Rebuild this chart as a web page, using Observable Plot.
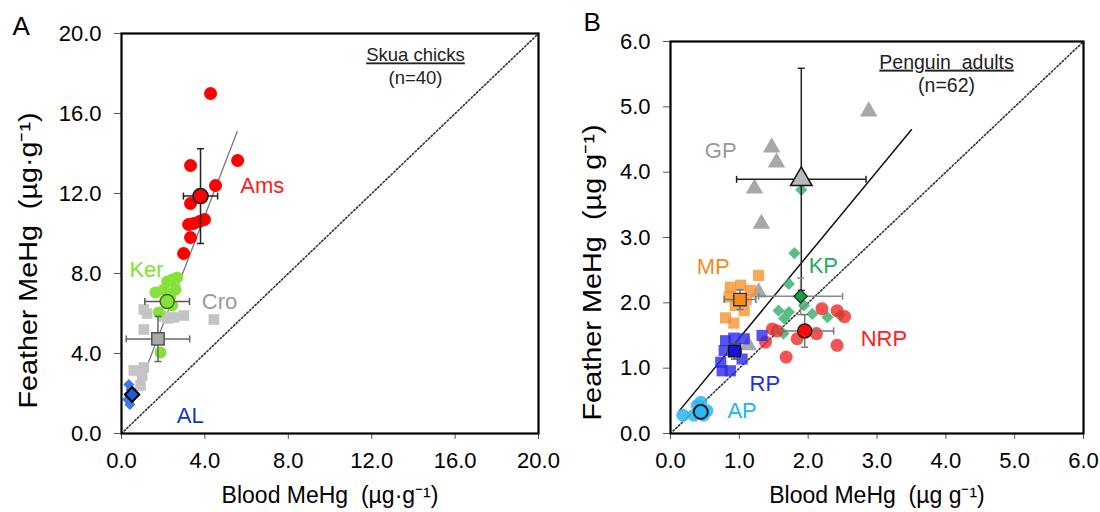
<!DOCTYPE html>
<html><head><meta charset="utf-8">
<script src="https://cdn.jsdelivr.net/npm/d3@7"></script>
<script src="https://cdn.jsdelivr.net/npm/@observablehq/plot@0.6"></script>
<style>
body{margin:0;background:#fff;}
#wrap{display:flex;width:1100px;height:512px;}
svg text{font-family:"Liberation Sans",Arial,sans-serif;}
</style></head><body><div id="wrap"></div>
<script>
// ---------- Panel A: skua chicks ----------
const amsBlood   = [4.27, 5.57, 3.31, 4.51, 3.31, 3.98, 3.46, 3.22, 3.74, 3.31, 2.98];
const amsFeather = [17.0, 13.65, 13.4, 12.4, 11.5, 10.7, 10.5, 10.45, 10.6, 9.8, 9.0];
const kerBlood   = [2.67, 2.43, 2.19, 2.03, 2.59, 1.63, 2.43, 1.79, 1.87, 2.35];
const kerFeather = [7.8, 7.7, 7.6, 7.2, 7.2, 7.05, 6.4, 6.05, 4.05, 6.9];
const croBlood   = [1.07, 1.23, 2.03, 2.51, 2.99, 4.43, 1.07, 0.59, 1.07, 0.99, 0.91, 2.2];
const croFeather = [6.2, 6.0, 5.85, 5.8, 5.9, 5.7, 5.2, 3.15, 3.3, 2.9, 2.4, 5.75];
const alBlood    = [0.35, 0.45, 0.3, 0.4, 0.5];
const alFeather  = [2.45, 2.2, 1.7, 1.45, 1.9];

const meanGroupsA = ["Ams", "Ker", "Cro", "AL"];
const meanBloodA  = [3.79, 2.19, 1.75, 0.51];
const meanFeathA  = [11.87, 6.6, 4.73, 1.95];
const sdBloodA    = [0.82, 1.07, 1.52, 0];
const sdFeathA    = [2.37, 0, 1.13, 0];

const fitA = [[0.45, 5.55], [1.27, 15.1]]; // regression line ends (blood, feather)
const ticksA = [0, 4, 8, 12, 16, 20];
const labelsA = ["Ams", "Ker", "Cro", "AL"];
const labelXA = [6.75, 1.2, 4.7, 3.3];
const labelYA = [12.4, 8.2, 6.6, 0.9];

// ---------- Panel B: penguin adults ----------
const gpBlood    = [2.88, 1.47, 1.54, 1.22, 1.32, 1.28, 1.13];
const gpFeather  = [4.93, 4.38, 4.15, 3.75, 3.21, 2.16, 1.35];
const kpBlood    = [1.90, 1.80, 1.72, 1.94, 1.57, 1.72, 1.65, 2.06, 2.28, 2.46, 1.64];
const kpFeather  = [3.73, 2.76, 2.29, 1.96, 1.88, 1.86, 1.76, 1.83, 1.78, 1.81, 1.53];
const nrpBlood   = [2.20, 2.42, 2.53, 1.48, 1.38, 1.84, 2.12, 2.42, 1.68, 1.55];
const nrpFeather = [1.91, 1.88, 1.79, 1.60, 1.40, 1.45, 1.53, 1.35, 1.17, 1.57];
const mpBlood    = [1.28, 0.87, 1.02, 1.16, 0.85, 0.94, 1.07, 0.80, 0.92, 1.10];
const mpFeather  = [2.42, 2.24, 2.27, 2.19, 2.09, 1.96, 1.88, 1.77, 1.69, 2.05];
const rpBlood    = [0.80, 0.92, 1.07, 0.78, 0.73, 0.87, 1.04, 1.33, 0.75, 0.95];
const rpFeather  = [1.42, 1.46, 1.45, 1.27, 1.09, 0.96, 1.14, 1.50, 0.96, 1.30];
const apBlood    = [0.18, 0.39, 0.53, 0.34, 0.48, 0.44];
const apFeather  = [0.28, 0.43, 0.35, 0.28, 0.28, 0.48];

const meanGroupsB = ["GP", "KP", "NRP", "MP", "RP", "AP"];
const meanBloodB  = [1.90, 1.89, 1.95, 1.01, 0.93, 0.44];
const meanFeathB  = [3.89, 2.10, 1.57, 2.05, 1.26, 0.33];
const sdBloodB    = [0.94, 0.61, 0.42, 0.23, 0.10, 0];
const sdFeathB    = [1.70, 0.28, 0.25, 0.15, 0.12, 0];

const fitB = [[0.13, 3.50], [0.35, 4.65]];
const ticksB = [0, 1, 2, 3, 4, 5, 6];
const labelsB = ["GP", "MP", "KP", "NRP", "RP", "AP"];
const labelXB = [0.73, 0.62, 2.22, 3.1, 1.37, 1.04];
const labelYB = [4.33, 2.55, 2.57, 1.45, 0.76, 0.35];

// ---------- helpers ----------
const capV = {draw(ctx, size){const r = Math.sqrt(size/Math.PI); ctx.moveTo(0,-r); ctx.lineTo(0,r);}};
const capH = {draw(ctx, size){const r = Math.sqrt(size/Math.PI); ctx.moveTo(-r,0); ctx.lineTo(r,0);}};
const pts = (xs, ys) => xs.map((x, i) => ({x, y: ys[i]}));
const means = (g, xs, ys, xe, ye) => g.map((k, i) => ({g: k, x: xs[i], y: ys[i], xe: xe[i], ye: ye[i]}));

function errorMarks(ms, stroke) {
  const h = ms.filter(d => d.xe > 0), v = ms.filter(d => d.ye > 0);
  const hc = h.flatMap(d => [{x: d.x - d.xe, y: d.y, g: d.g}, {x: d.x + d.xe, y: d.y, g: d.g}]);
  const vc = v.flatMap(d => [{x: d.x, y: d.y - d.ye, g: d.g}, {x: d.x, y: d.y + d.ye, g: d.g}]);
  return [
    Plot.ruleY(h, {x1: d => d.x - d.xe, x2: d => d.x + d.xe, y: "y", stroke: d => stroke[d.g], strokeWidth: 1.5}),
    Plot.ruleX(v, {y1: d => d.y - d.ye, y2: d => d.y + d.ye, x: "x", stroke: d => stroke[d.g], strokeWidth: 1.5}),
    Plot.dot(hc, {x: "x", y: "y", symbol: capV, r: 3.5, stroke: d => stroke[d.g], strokeWidth: 1.5, fill: "none"}),
    Plot.dot(vc, {x: "x", y: "y", symbol: capH, r: 3.5, stroke: d => stroke[d.g], strokeWidth: 1.5, fill: "none"})
  ];
}

function frameAxes(ticks, pad) {
  return [
    Plot.axisX({ticks, tickFormat: d => d.toFixed(1), tickSize: 6, tickPadding: 13, fontSize: 22, label: null, stroke: "#555"}),
    Plot.axisY({ticks, tickFormat: d => d.toFixed(1), tickSize: 7, tickPadding: pad, fontSize: 22, label: null, stroke: "#555"}),
    Plot.frame({stroke: "black", strokeWidth: 2.2})
  ];
}

const labelFont = "Lato, 'Open Sans', sans-serif";

// ---------- Panel A ----------
const mA = means(meanGroupsA, meanBloodA, meanFeathA, sdBloodA, sdFeathA);
const errStrokeA = {Ams: "#222", Ker: "#555", Cro: "#666", AL: "#222"};
const plotA = Plot.plot({
  width: 560, height: 512,
  marginLeft: 121, marginRight: 22, marginTop: 33, marginBottom: 79,
  x: {domain: [0, 20]}, y: {domain: [0, 20]},
  style: {background: "white", color: "black", overflow: "visible"},
  marks: [
    Plot.line([[0, 0], [20, 20]], {x: d => d[0], y: d => d[1], stroke: "#333", strokeWidth: 1.6, strokeDasharray: "1.5,2.2"}),
    Plot.line(fitA[0].map((x, i) => ({x, y: fitA[1][i]})), {x: "x", y: "y", stroke: "#777", strokeWidth: 1.3}),
    Plot.dot(pts(croBlood, croFeather), {x: "x", y: "y", symbol: "square", r: 6, fill: "#c4c4c4"}),
    Plot.dot(pts(alBlood, alFeather), {x: "x", y: "y", symbol: "diamond2", r: 5, fill: "#3a78e8"}),
    Plot.dot(pts(kerBlood, kerFeather), {x: "x", y: "y", r: 6, fill: "#86e23a"}),
    Plot.dot(pts(amsBlood, amsFeather), {x: "x", y: "y", r: 6.5, fill: "#ff0000"}),
    ...errorMarks(mA, errStrokeA),
    Plot.dot(mA.filter(d => d.g === "Ams"), {x: "x", y: "y", r: 7.5, fill: "#ff0000", stroke: "#222", strokeWidth: 1.8}),
    Plot.dot(mA.filter(d => d.g === "Ker"), {x: "x", y: "y", r: 7, fill: "#86e23a", stroke: "#3c6e10", strokeWidth: 1.5}),
    Plot.dot(mA.filter(d => d.g === "Cro"), {x: "x", y: "y", symbol: "square", r: 7, fill: "#a9a9a9", stroke: "#555", strokeWidth: 1.5}),
    Plot.dot(mA.filter(d => d.g === "AL"), {x: "x", y: "y", symbol: "diamond2", r: 6.5, fill: "#1f5ad8", stroke: "#000", strokeWidth: 2}),
    Plot.text(labelsA, {x: (d, i) => labelXA[i], y: (d, i) => labelYA[i], text: d => d, fontSize: 22, fontFamily: labelFont,
      fill: d => ({Ams: "#ff1a1a", Ker: "#80e030", Cro: "#9a9a9a", AL: "#1535c0"})[d]}),
    Plot.text(["Skua chicks"], {x: 14.1, y: 18.9, text: d => d, fontSize: 18.5, fill: "#222"}),
    Plot.text(["(n=40)"], {x: 14.1, y: 17.75, text: d => d, fontSize: 18.5, fill: "#222"}),
    ...frameAxes(ticksA, 13),
    Plot.text(["Feather MeHg  (µg·g⁻¹)"], {frameAnchor: "left", textAnchor: "middle", lineAnchor: "middle", rotate: -90, dx: -93, dy: 27, text: d => d, fontSize: 26}),
    Plot.text(["Blood MeHg  (µg·g⁻¹)"], {frameAnchor: "bottom", textAnchor: "middle", lineAnchor: "bottom", dy: 69, text: d => d, fontSize: 23}),
    Plot.text(["A"], {frameAnchor: "top-left", textAnchor: "start", lineAnchor: "top", dx: -109, dy: -17, text: d => d, fontSize: 26})
  ]
});

// ---------- Panel B ----------
const mB = means(meanGroupsB, meanBloodB, meanFeathB, sdBloodB, sdFeathB);
const errStrokeB = {GP: "#222", KP: "#888", NRP: "#777", MP: "#777", RP: "#555", AP: "#555"};
const plotB = Plot.plot({
  width: 540, height: 512,
  marginLeft: 110, marginRight: 17, marginTop: 41, marginBottom: 79,
  x: {domain: [0, 6]}, y: {domain: [0, 6]},
  style: {background: "white", color: "black", overflow: "visible"},
  marks: [
    Plot.line([[0, 0], [6, 6]], {x: d => d[0], y: d => d[1], stroke: "#333", strokeWidth: 1.6, strokeDasharray: "1.5,2.2"}),
    Plot.line(fitB[0].map((x, i) => ({x, y: fitB[1][i]})), {x: "x", y: "y", stroke: "#111", strokeWidth: 1.5}),
    Plot.dot(pts(gpBlood, gpFeather), {x: "x", y: "y", symbol: "triangle", r: 6.5, fill: "#a8a8a8"}),
    Plot.dot(pts(kpBlood, kpFeather), {x: "x", y: "y", symbol: "diamond2", r: 5.5, fill: "#3cb46e", fillOpacity: 0.85}),
    Plot.dot(pts(nrpBlood, nrpFeather), {x: "x", y: "y", r: 6.5, fill: "#f02828", fillOpacity: 0.8}),
    Plot.dot(pts(mpBlood, mpFeather), {x: "x", y: "y", symbol: "square", r: 6.3, fill: "#f5922e", fillOpacity: 0.8}),
    Plot.dot(pts(rpBlood, rpFeather), {x: "x", y: "y", symbol: "square", r: 6.3, fill: "#2a2ae6", fillOpacity: 0.8}),
    Plot.dot(pts(apBlood, apFeather), {x: "x", y: "y", r: 6.5, fill: "#29b6f2", fillOpacity: 0.85}),
    ...errorMarks(mB, errStrokeB),
    Plot.dot(mB.filter(d => d.g === "GP"), {x: "x", y: "y", symbol: "triangle", r: 8, fill: "#b8b8b8", stroke: "#111", strokeWidth: 1.5}),
    Plot.dot(mB.filter(d => d.g === "KP"), {x: "x", y: "y", symbol: "diamond2", r: 6, fill: "#1e9a48", stroke: "#0c3d1c", strokeWidth: 1.3}),
    Plot.dot(mB.filter(d => d.g === "NRP"), {x: "x", y: "y", r: 7, fill: "#ff0a0a", stroke: "#222", strokeWidth: 1.5}),
    Plot.dot(mB.filter(d => d.g === "MP"), {x: "x", y: "y", symbol: "square", r: 7, fill: "#f58a1f", stroke: "#333", strokeWidth: 1.3}),
    Plot.dot(mB.filter(d => d.g === "RP"), {x: "x", y: "y", symbol: "square", r: 6.5, fill: "#1212d8", stroke: "#111", strokeWidth: 1.3}),
    Plot.dot(mB.filter(d => d.g === "AP"), {x: "x", y: "y", r: 7, fill: "#29b6f2", stroke: "#111", strokeWidth: 1.8}),
    Plot.text(labelsB, {x: (d, i) => labelXB[i], y: (d, i) => labelYB[i], text: d => d, fontSize: 22, fontFamily: labelFont,
      fill: d => ({GP: "#9a9a9a", MP: "#f08a24", KP: "#2eaa5c", NRP: "#ff2020", RP: "#2a2ae0", AP: "#22b4f0"})[d]}),
    Plot.text(["Penguin  adults"], {x: 4.01, y: 5.68, text: d => d, fontSize: 19.5, fill: "#222"}),
    Plot.text(["(n=62)"], {x: 4.01, y: 5.33, text: d => d, fontSize: 19.5, fill: "#222"}),
    ...frameAxes(ticksB, 13),
    Plot.text(["Feather MeHg  (µg g⁻¹)"], {frameAnchor: "left", textAnchor: "middle", lineAnchor: "middle", rotate: -90, dx: -78, dy: 35, text: d => d, fontSize: 26}),
    Plot.text(["Blood MeHg  (µg g⁻¹)"], {frameAnchor: "bottom", textAnchor: "middle", lineAnchor: "bottom", dy: 69, text: d => d, fontSize: 23}),
    Plot.text(["B"], {frameAnchor: "top-left", textAnchor: "start", lineAnchor: "top", dx: -87, dy: -29, text: d => d, fontSize: 26})
  ]
});

const wrap = document.getElementById("wrap");
wrap.appendChild(plotA);
wrap.appendChild(plotB);
d3.selectAll("svg text").filter(function(){ const t = this.textContent; return t === "Skua chicks" || t === "Penguin  adults"; })
  .style("text-decoration", "underline").style("white-space", "pre");
d3.selectAll("svg text").filter(function(){ return /MeHg/.test(this.textContent); })
  .style("white-space", "pre");
d3.selectAll("svg text").filter(function(){ return /^Feather/.test(this.textContent); })
  .attr("textLength", 296).attr("lengthAdjust", "spacingAndGlyphs");
</script></body></html>
